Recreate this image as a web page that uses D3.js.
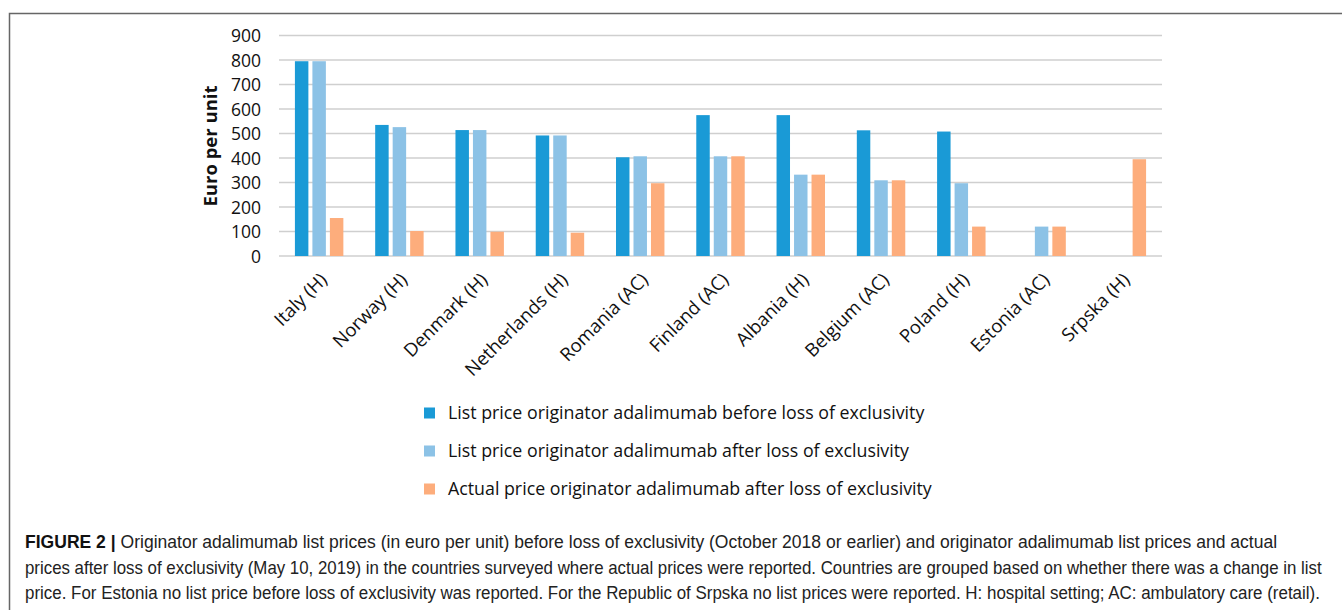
<!DOCTYPE html>
<html><head><meta charset="utf-8">
<script src="https://cdn.jsdelivr.net/npm/d3@7"></script>
<style>
html,body{margin:0;padding:0;background:#fff;}
svg{display:block;}
</style></head>
<body>
<svg id="c" width="1342" height="610"></svg>
<script>
const categories = ["Italy (H)","Norway (H)","Denmark (H)","Netherlands (H)","Romania (AC)","Finland (AC)","Albania (H)","Belgium (AC)","Poland (H)","Estonia (AC)","Srpska (H)"];
const listBefore = [795, 535, 514, 492, 403, 575, 575, 513, 508, null, null];
const listAfter  = [795, 526, 514, 492, 407, 407, 332, 309, 297, 120, null];
const actualAfter= [155, 102, 99, 95, 297, 407, 332, 309, 120, 120, 395];
const seriesNames = ["List price originator adalimumab before loss of exclusivity","List price originator adalimumab after loss of exclusivity","Actual price originator adalimumab after loss of exclusivity"];
const seriesColors = ["#1a9ad6","#8cc2e6","#fdad7c"];
const yTicks = [0,100,200,300,400,500,600,700,800,900];
const yLabel = "Euro per unit";
const captionBold = "FIGURE 2 |";
const captionLines = [
 " Originator adalimumab list prices (in euro per unit) before loss of exclusivity (October 2018 or earlier) and originator adalimumab list prices and actual",
 "prices after loss of exclusivity (May 10, 2019) in the countries surveyed where actual prices were reported. Countries are grouped based on whether there was a change in list",
 "price. For Estonia no list price before loss of exclusivity was reported. For the Republic of Srpska no list prices were reported. H: hospital setting; AC: ambulatory care (retail)."
];
const series = [listBefore, listAfter, actualAfter];

const svg = d3.select("#c");
const font = "'Open Sans', sans-serif";

// frame
svg.append("path").attr("d","M9.5,610 L9.5,13.5 L1342,13.5").attr("fill","none").attr("stroke","#666").attr("stroke-width",1.5);

const x0 = d3.scaleBand().domain(categories).range([279,1162]).paddingInner(0).paddingOuter(0);
const x1 = d3.scaleBand().domain([0,1,2]).range([0, x0.bandwidth()]).paddingInner(0.23).paddingOuter(0.91);
const y = d3.scaleLinear().domain([0,900]).range([256,35.5]);

// grid
svg.append("g").selectAll("line").data(yTicks).join("line")
 .attr("x1",279).attr("x2",1162).attr("y1",d=>y(d)).attr("y2",d=>y(d))
 .attr("stroke","#cfcfcf").attr("stroke-width",1.5);

// y axis
const yAxis = d3.axisLeft(y).tickValues(yTicks).tickSize(0).tickPadding(0);
const ga = svg.append("g").attr("transform","translate(261,0)").call(yAxis);
ga.select(".domain").remove();
ga.selectAll("text").attr("font-family",font).attr("font-size",17.5).attr("fill","#111").attr("dy","0.36em");

svg.append("text").attr("transform","translate(211,146) rotate(-90)").attr("text-anchor","middle").attr("dy","0.35em")
 .attr("font-family",font).attr("font-weight","bold").attr("font-size",18.5).attr("fill","#111").text(yLabel);

// bars
const g = svg.append("g");
series.forEach((vals,si)=>{
 g.append("g").selectAll("rect").data(categories.map((c,i)=>({c,v:vals[i]})).filter(d=>d.v!=null)).join("rect")
  .attr("x",d=>x0(d.c)+x1(si)).attr("width",x1.bandwidth())
  .attr("y",d=>y(d.v)).attr("height",d=>y(0)-y(d.v))
  .attr("fill",seriesColors[si]);
});

// x axis labels
const xAxis = d3.axisBottom(x0).tickSize(0).tickPadding(0);
const gx = svg.append("g").attr("transform","translate(0,256)").call(xAxis);
gx.select(".domain").remove();
gx.selectAll("text").attr("font-family",font).attr("font-size",18.5).attr("fill","#111")
 .attr("text-anchor","end").attr("dy",null).attr("y",0)
 .attr("transform","translate(9,25) rotate(-45)");

// legend
const lg = svg.append("g");
seriesNames.forEach((n,i)=>{
 const yy = 413 + i*38;
 lg.append("rect").attr("x",424).attr("y",yy-5.5).attr("width",11).attr("height",11).attr("fill",seriesColors[i]);
 lg.append("text").attr("x",448).attr("y",yy).attr("dy","0.35em").attr("font-family",font).attr("font-size",17.8).attr("fill","#111").text(n);
});

// caption (condensed by horizontal scaling)
const capFont = "'Liberation Sans Narrow','Arial Narrow','Liberation Sans',sans-serif";
const capY = [548,574,599];
const capEnds = [1278,1322,1321];
captionLines.forEach((t,i)=>{
 const tx = svg.append("text").attr("x",0).attr("y",0).attr("font-family",capFont).attr("font-size",18.5).attr("fill","#222");
 if(i===0){ tx.append("tspan").attr("font-weight","bold").attr("fill","#111").text(captionBold); }
 tx.append("tspan").text(t);
 const w = tx.node().getComputedTextLength();
 const sx = (capEnds[i]-25)/w;
 tx.attr("transform",`translate(25,${capY[i]}) scale(${sx},1)`);
});
</script>
</body></html>
